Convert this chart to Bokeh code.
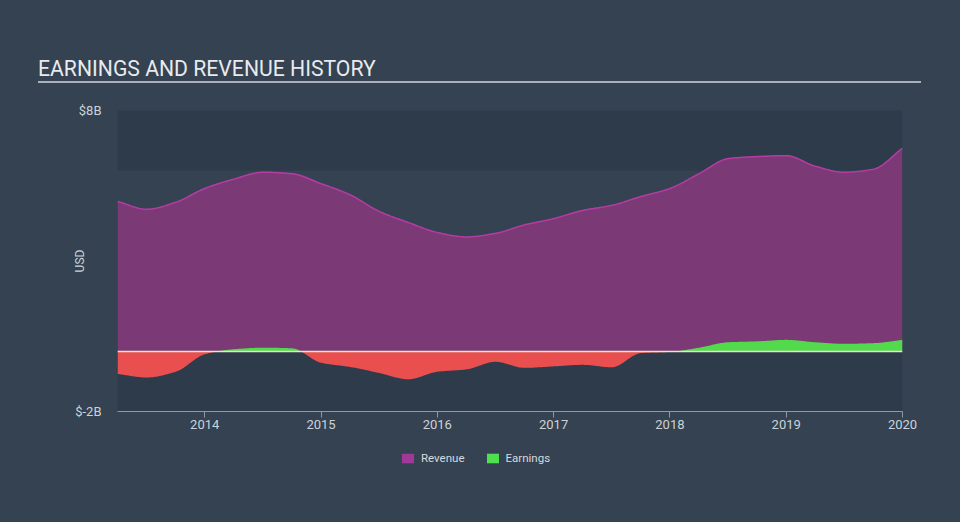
import numpy as np
from bokeh.plotting import figure
from bokeh.models import (Range1d, FixedTicker, Legend, LegendItem,
                          ColumnDataSource, Div)
from bokeh.layouts import column
from bokeh.embed import file_html
from bokeh.resources import INLINE

# ---------------- data (USD billions, quarterly) ----------------
quarters = [2013.25, 2013.5, 2013.75, 2014.0, 2014.25, 2014.5, 2014.75,
            2015.0, 2015.25, 2015.5, 2015.75, 2016.0, 2016.25, 2016.5,
            2016.75, 2017.0, 2017.25, 2017.5, 2017.75, 2018.0, 2018.25,
            2018.5, 2018.75, 2019.0, 2019.25, 2019.5, 2019.75, 2020.0]
revenue = [4.98, 4.72, 4.95, 5.41, 5.72, 5.95, 5.90, 5.57, 5.20, 4.65,
           4.28, 3.95, 3.80, 3.92, 4.20, 4.41, 4.68, 4.85, 5.14, 5.41,
           5.90, 6.40, 6.47, 6.50, 6.15, 5.95, 6.05, 6.75]
earnings = [-0.75, -0.87, -0.68, -0.10, 0.07, 0.12, 0.10, -0.38, -0.52,
            -0.72, -0.93, -0.68, -0.60, -0.35, -0.55, -0.50, -0.45, -0.53,
            -0.06, -0.02, 0.12, 0.30, 0.33, 0.38, 0.30, 0.25, 0.27, 0.38]
year_ticks = [2014, 2015, 2016, 2017, 2018, 2019, 2020]
year_labels = ["2014", "2015", "2016", "2017", "2018", "2019", "2020"]
y_ticks = [-2, 8]
y_labels = ["$-2B", "$8B"]
band_bottoms = [6, -2]
band_tops = [8, 0]
title_text = "EARNINGS AND REVENUE HISTORY"
series_names = ["Revenue", "Earnings"]

BG = "#344252"
BAND = "#2e3b4b"
FONT = "Roboto"
HOST = {"background-color": BG}


def monotone(xs, ys, n=24):
    """Monotone cubic (Fritsch-Carlson) smoothing used only to draw the curves."""
    xs = np.asarray(xs, float)
    ys = np.asarray(ys, float)
    h = np.diff(xs)
    d = np.diff(ys) / h
    m = np.zeros_like(ys)
    m[0], m[-1] = d[0], d[-1]
    for i in range(1, len(ys) - 1):
        if d[i - 1] * d[i] <= 0:
            m[i] = 0.0
        else:
            w1 = 2 * h[i] + h[i - 1]
            w2 = h[i] + 2 * h[i - 1]
            m[i] = (w1 + w2) / (w1 / d[i - 1] + w2 / d[i])
    ox, oy = [], []
    t = np.linspace(0, 1, n, endpoint=False)
    h00 = 2 * t**3 - 3 * t**2 + 1
    h10 = t**3 - 2 * t**2 + t
    h01 = -2 * t**3 + 3 * t**2
    h11 = t**3 - t**2
    for i in range(len(h)):
        ox.extend(xs[i] + t * h[i])
        oy.extend(h00 * ys[i] + h10 * h[i] * m[i] + h01 * ys[i + 1] + h11 * h[i] * m[i + 1])
    ox.append(xs[-1])
    oy.append(ys[-1])
    return np.array(ox), np.array(oy)


rx, ry = monotone(quarters, revenue)
ex, ey = monotone(quarters, earnings)

src = ColumnDataSource(dict(x=rx, rev=ry, zero=np.zeros_like(rx)))
esrc = ColumnDataSource(dict(x=ex, neg=np.minimum(ey, 0), pos=np.maximum(ey, 0),
                             zero=np.zeros_like(ex)))

# ---------------- title strip (96 px) ----------------
title_html = (
    '<div style="margin:0 0 0 38px;padding:58px 0 2px 0;width:883px;'
    'border-bottom:2px solid #aab0b7;font-family:Roboto,sans-serif;font-size:21.2px;'
    'line-height:21px;color:#e8eaec;white-space:nowrap;">' + title_text + '</div>'
)
head = Div(text=title_html, width=960, height=96,
           styles={"background-color": BG, "margin": "0", "padding": "0"})

# ---------------- main chart (96 .. 441 px) ----------------
p = figure(width=960, height=345, x_range=Range1d(2013.25, 2020.0),
           y_range=Range1d(-2, 8), output_backend="svg", toolbar_location=None,
           min_border_left=117, min_border_right=58, min_border_top=14,
           min_border_bottom=30, background_fill_color=BG, border_fill_color=BG,
           outline_line_color=None, styles=HOST)
p.xgrid.visible = False
p.ygrid.visible = False

# background bands
p.hstrip(y0=band_bottoms, y1=band_tops, fill_color=BAND, line_color=None)

p.varea(x="x", y1="zero", y2="rev", source=src, fill_color="#7b3976")
p.line(x="x", y="rev", source=src, line_color="#b63ca4", line_width=1.5)
p.varea(x="x", y1="zero", y2="neg", source=esrc, fill_color="#ea4f50")
p.varea(x="x", y1="zero", y2="pos", source=esrc, fill_color="#52d94c")
p.hspan(y=[0], line_color="#ece6c6", line_width=1.5)

# axes
xa = p.xaxis[0]
xa.ticker = FixedTicker(ticks=year_ticks)
xa.major_label_overrides = dict(zip(year_ticks, year_labels))
xa.axis_line_color = "#8f99a4"
xa.major_tick_line_color = "#8f99a4"
xa.major_tick_in = 0
xa.major_tick_out = 6
xa.minor_tick_line_color = None
xa.major_label_text_color = "#cdd2d7"
xa.major_label_text_font = FONT
xa.major_label_text_font_size = "13px"
xa.major_label_standoff = 2

ya = p.yaxis[0]
ya.ticker = FixedTicker(ticks=y_ticks)
ya.major_label_overrides = dict(zip(y_ticks, y_labels))
ya.axis_line_color = None
ya.major_tick_line_color = None
ya.major_tick_in = 0
ya.major_tick_out = 0
ya.minor_tick_line_color = None
ya.major_label_text_color = "#cdd2d7"
ya.major_label_text_font = FONT
ya.major_label_text_font_size = "13px"
ya.major_label_standoff = 16
ya.axis_label = "USD"
ya.axis_label_text_color = "#cdd2d7"
ya.axis_label_text_font = FONT
ya.axis_label_text_font_size = "12px"
ya.axis_label_text_font_style = "normal"
ya.axis_label_standoff = -15

# ---------------- legend strip (441 .. 522 px) ----------------
lg = figure(width=960, height=81, x_range=Range1d(0, 1), y_range=Range1d(0, 1),
            x_axis_type=None, y_axis_type=None, output_backend="svg",
            toolbar_location=None, min_border_left=117, min_border_right=58,
            min_border_top=0, min_border_bottom=0, background_fill_color=BG,
            border_fill_color=BG, outline_line_color=None, styles=HOST)
lg.xgrid.visible = False
lg.ygrid.visible = False
# swatch glyphs kept outside the strip's visible range; they only feed the legend
sw_r = lg.quad(left=[5], right=[6], top=[6], bottom=[5], fill_color="#a0389a", line_color=None)
sw_e = lg.quad(left=[5], right=[6], top=[6], bottom=[5], fill_color="#4fe04f", line_color=None)
legend = Legend(items=[LegendItem(label=series_names[0], renderers=[sw_r]),
                       LegendItem(label=series_names[1], renderers=[sw_e])],
                orientation="horizontal", location=(283, 57),
                background_fill_alpha=0, border_line_color=None,
                label_text_color="#d6dade", label_text_font=FONT,
                label_text_font_size="11.5px", glyph_width=15, glyph_height=12,
                label_standoff=6, spacing=20, padding=10, margin=0)
lg.add_layout(legend, "center")

layout = column(head, p, lg, spacing=0, styles=HOST)
open("out.html", "w").write(file_html(layout, INLINE))
